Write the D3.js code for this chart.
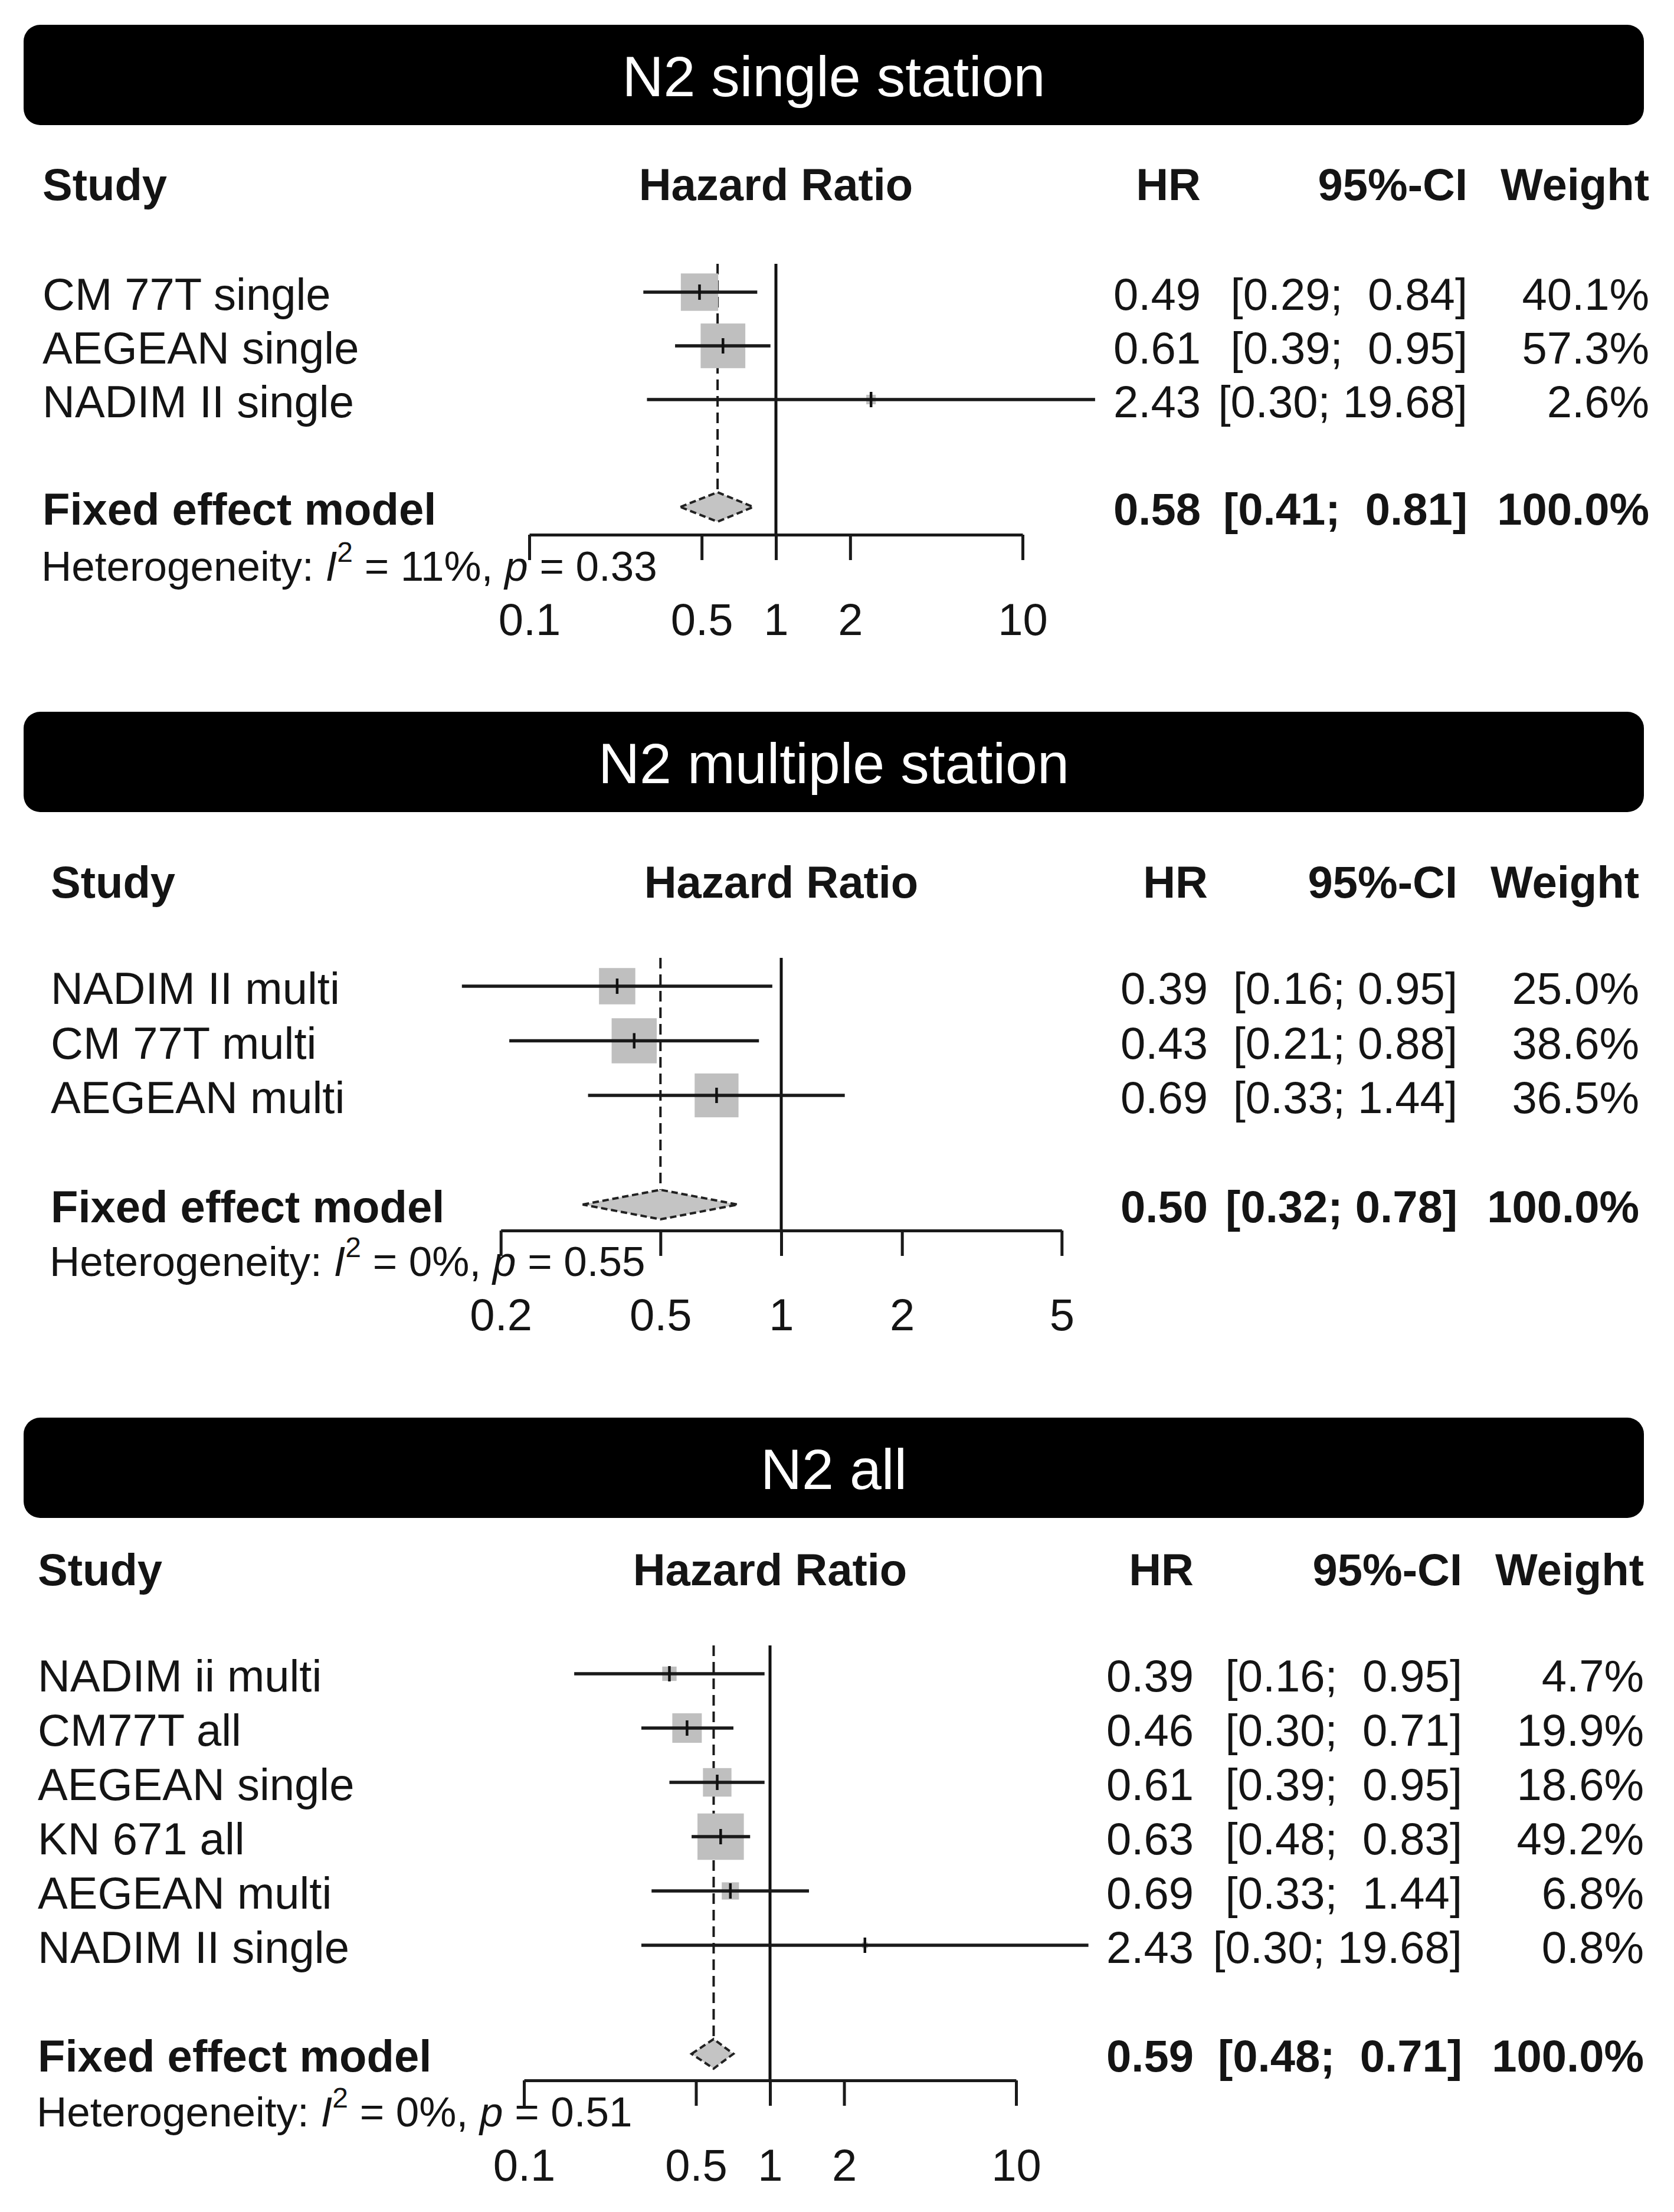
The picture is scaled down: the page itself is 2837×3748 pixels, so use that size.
<!DOCTYPE html>
<html>
<head>
<meta charset="utf-8">
<script src="https://cdn.jsdelivr.net/npm/d3@7"></script>
<style>
body { margin: 0; background: #fff; }
svg text { font-family: "Liberation Sans", Arial, sans-serif; fill: #141414; }
</style>
</head>
<body>
<div id="chart"></div>
<script>
"use strict";

var panelTitles = ["N2 single station", "N2 multiple station", "N2 all"];

// N2 single station
var singleStudies = ["CM 77T single", "AEGEAN single", "NADIM II single"];
var singleHR      = [0.49, 0.61, 2.43];
var singleLower   = [0.29, 0.39, 0.30];
var singleUpper   = [0.84, 0.95, 19.68];
var singleWeight  = [40.1, 57.3, 2.6];
var singlePooled  = [0.58, 0.41, 0.81, 100.0];   // HR, lower, upper, weight
var singleHet     = ["11%", "0.33"];             // I^2, p
var singleTicks   = [0.1, 0.5, 1, 2, 10];

// N2 multiple station
var multiStudies = ["NADIM II multi", "CM 77T multi", "AEGEAN multi"];
var multiHR      = [0.39, 0.43, 0.69];
var multiLower   = [0.16, 0.21, 0.33];
var multiUpper   = [0.95, 0.88, 1.44];
var multiWeight  = [25.0, 38.6, 36.5];
var multiPooled  = [0.50, 0.32, 0.78, 100.0];
var multiHet     = ["0%", "0.55"];
var multiTicks   = [0.2, 0.5, 1, 2, 5];

// N2 all
var allStudies = ["NADIM ii multi", "CM77T all", "AEGEAN single", "KN 671 all", "AEGEAN multi", "NADIM II single"];
var allHR      = [0.39, 0.46, 0.61, 0.63, 0.69, 2.43];
var allLower   = [0.16, 0.30, 0.39, 0.48, 0.33, 0.30];
var allUpper   = [0.95, 0.71, 0.95, 0.83, 1.44, 19.68];
var allWeight  = [4.7, 19.9, 18.6, 49.2, 6.8, 0.8];
var allPooled  = [0.59, 0.48, 0.71, 100.0];
var allHet     = ["0%", "0.51"];
var allTicks   = [0.1, 0.5, 1, 2, 10];


var W = 2837, H = 3748;
var FS = 76;

var svg = d3.select("#chart").append("svg")
	.attr("width", W).attr("height", H);

svg.append("rect").attr("width", W).attr("height", H).attr("fill", "#fff");

// layout of every panel (pixel positions only)
var layouts = [
	{top: 42,   headY: 339,  firstY: 495,  rowH: 91,   axisGap: 47, hetGap: 125, tickGap: 217,
	 x1: 1315, decade: 418, labelX: 72, hrX: 2035, ciX: 2487, wX: 2795, sqK: 10},
	{top: 1206, headY: 1521, firstY: 1671, rowH: 92.5, axisGap: 44, hetGap: 121, tickGap: 213,
	 x1: 1324, decade: 680, labelX: 86, hrX: 2047, ciX: 2470, wX: 2778, sqK: 12.3},
	{top: 2402, headY: 2686, firstY: 2836, rowH: 92,   axisGap: 45, hetGap: 123, tickGap: 215,
	 x1: 1305, decade: 417, labelX: 64, hrX: 2023, ciX: 2478, wX: 2786, sqK: 11.2}
];

var panelData = [
	{studies: singleStudies, hr: singleHR, lo: singleLower, hi: singleUpper, w: singleWeight,
	 pooled: singlePooled, het: singleHet, ticks: singleTicks},
	{studies: multiStudies, hr: multiHR, lo: multiLower, hi: multiUpper, w: multiWeight,
	 pooled: multiPooled, het: multiHet, ticks: multiTicks},
	{studies: allStudies, hr: allHR, lo: allLower, hi: allUpper, w: allWeight,
	 pooled: allPooled, het: allHet, ticks: allTicks}
];


function padLeft(s, n) {
	while (s.length < n) s = " " + s;
	return s;
}

function drawPanel(title, d, L) {

	var g = svg.append("g");
	var n = d.studies.length;

	// rows as objects
	var rows = d.studies.map(function(s, i) {
		return {name: s, hr: d.hr[i], lo: d.lo[i], hi: d.hi[i], w: d.w[i],
			y: L.firstY + i * L.rowH};
	});
	var fixedY = L.firstY + (n + 1) * L.rowH;
	var axisY = fixedY + L.axisGap;

	// width of the upper CI strings, R pads them with spaces
	var hiWidth = d3.max(d.hi.concat([d.pooled[2]]), function(v) { return v.toFixed(2).length; });
	function ciText(lo, hi) {
		return "[" + lo.toFixed(2) + "; " + padLeft(hi.toFixed(2), hiWidth) + "]";
	}

	var t0 = d.ticks[0], t1 = d.ticks[d.ticks.length - 1];
	var x = d3.scaleLog()
		.domain([t0, t1])
		.range([L.x1 + L.decade * Math.log10(t0), L.x1 + L.decade * Math.log10(t1)]);

	// title bar
	g.append("rect")
		.attr("x", 40).attr("y", L.top)
		.attr("width", 2746).attr("height", 170)
		.attr("rx", 28).attr("ry", 28)
		.attr("fill", "#000");
	g.append("text")
		.attr("x", 1413).attr("y", L.top + 85 + 36)
		.attr("text-anchor", "middle")
		.style("fill", "#fff")
		.style("font-size", "97px")
		.text(title);

	// column headers
	var head = g.append("g").style("font-weight", "bold").style("font-size", FS + "px");
	head.append("text").attr("x", L.labelX).attr("y", L.headY).text("Study");
	head.append("text").attr("x", x(1)).attr("y", L.headY).attr("text-anchor", "middle").text("Hazard Ratio");
	head.append("text").attr("x", L.hrX).attr("y", L.headY).attr("text-anchor", "end").text("HR");
	head.append("text").attr("x", L.ciX).attr("y", L.headY).attr("text-anchor", "end").text("95%-CI");
	head.append("text").attr("x", L.wX).attr("y", L.headY).attr("text-anchor", "end").text("Weight");

	var diamondH = 25;
	var top = L.firstY - 48;

	// pooled estimate (dashed) and line of no effect
	g.append("line")
		.attr("x1", x(d.pooled[0])).attr("x2", x(d.pooled[0]))
		.attr("y1", top).attr("y2", fixedY - diamondH)
		.attr("stroke", "#1a1a1a").attr("stroke-width", 4)
		.attr("stroke-dasharray", "18,10");
	g.append("line")
		.attr("x1", x(1)).attr("x2", x(1))
		.attr("y1", top).attr("y2", axisY)
		.attr("stroke", "#111").attr("stroke-width", 5);

	// squares
	g.selectAll(".sq").data(rows).enter().append("rect")
		.attr("class", "sq")
		.attr("x", function(r) { return x(r.hr) - L.sqK * Math.sqrt(r.w) / 2; })
		.attr("y", function(r) { return r.y - L.sqK * Math.sqrt(r.w) / 2; })
		.attr("width", function(r) { return L.sqK * Math.sqrt(r.w); })
		.attr("height", function(r) { return L.sqK * Math.sqrt(r.w); })
		.attr("fill", "#bfbfbf");

	// confidence intervals
	g.selectAll(".ci").data(rows).enter().append("line")
		.attr("class", "ci")
		.attr("x1", function(r) { return x(r.lo); })
		.attr("x2", function(r) { return x(r.hi); })
		.attr("y1", function(r) { return r.y; })
		.attr("y2", function(r) { return r.y; })
		.attr("stroke", "#1a1a1a").attr("stroke-width", 5.5);

	// little tick on the estimate
	g.selectAll(".est").data(rows).enter().append("line")
		.attr("class", "est")
		.attr("x1", function(r) { return x(r.hr); })
		.attr("x2", function(r) { return x(r.hr); })
		.attr("y1", function(r) { return r.y - 13; })
		.attr("y2", function(r) { return r.y + 13; })
		.attr("stroke", "#111").attr("stroke-width", 4.5);

	// diamond
	var dia = [[x(d.pooled[1]), fixedY], [x(d.pooled[0]), fixedY - diamondH],
		[x(d.pooled[2]), fixedY], [x(d.pooled[0]), fixedY + diamondH]];
	g.append("path")
		.attr("d", "M" + dia.join("L") + "Z")
		.attr("fill", "#c4c4c4")
		.attr("stroke", "#222").attr("stroke-width", 4)
		.attr("stroke-dasharray", "11,6");

	// axis
	var ax = g.append("g")
		.attr("transform", "translate(0," + axisY + ")")
		.call(d3.axisBottom(x).tickValues(d.ticks).tickFormat(function(v) { return String(v); })
			.tickSize(43).tickSizeOuter(0));
	ax.select(".domain").attr("stroke", "#1a1a1a").attr("stroke-width", 5);
	ax.selectAll(".tick line").attr("stroke", "#1a1a1a").attr("stroke-width", 5);
	ax.selectAll(".tick text")
		.attr("y", L.tickGap - L.axisGap).attr("dy", 0)
		.style("font-size", FS + "px")
		.style("fill", "#141414");
	ax.attr("font-family", null).attr("font-size", null);

	// study text columns
	var txt = g.append("g").style("font-size", FS + "px");
	var yb = 30;
	txt.selectAll(".lab").data(rows).enter().append("text")
		.attr("x", L.labelX).attr("y", function(r) { return r.y + yb; })
		.text(function(r) { return r.name; });
	txt.selectAll(".hr").data(rows).enter().append("text")
		.attr("x", L.hrX).attr("y", function(r) { return r.y + yb; })
		.attr("text-anchor", "end")
		.text(function(r) { return r.hr.toFixed(2); });
	txt.selectAll(".cit").data(rows).enter().append("text")
		.attr("x", L.ciX).attr("y", function(r) { return r.y + yb; })
		.attr("text-anchor", "end")
		.style("white-space", "pre")
		.text(function(r) { return ciText(r.lo, r.hi); });
	txt.selectAll(".wt").data(rows).enter().append("text")
		.attr("x", L.wX).attr("y", function(r) { return r.y + yb; })
		.attr("text-anchor", "end")
		.text(function(r) { return r.w.toFixed(1) + "%"; });

	// fixed effect row
	var fx = g.append("g").style("font-size", FS + "px").style("font-weight", "bold");
	fx.append("text").attr("x", L.labelX).attr("y", fixedY + yb).text("Fixed effect model");
	fx.append("text").attr("x", L.hrX).attr("y", fixedY + yb).attr("text-anchor", "end")
		.text(d.pooled[0].toFixed(2));
	fx.append("text").attr("x", L.ciX).attr("y", fixedY + yb).attr("text-anchor", "end")
		.style("white-space", "pre")
		.text(ciText(d.pooled[1], d.pooled[2]));
	fx.append("text").attr("x", L.wX).attr("y", fixedY + yb).attr("text-anchor", "end")
		.text(d.pooled[3].toFixed(1) + "%");

	// heterogeneity
	var het = g.append("text")
		.attr("x", L.labelX - 2).attr("y", fixedY + L.hetGap)
		.style("font-size", "71px")
		.style("white-space", "pre");
	het.append("tspan").text("Heterogeneity: ");
	het.append("tspan").style("font-style", "italic").text("I");
	het.append("tspan").attr("dy", -32).style("font-size", "48px").text("2");
	het.append("tspan").attr("dy", 32).text(" = " + d.het[0] + ", ");
	het.append("tspan").style("font-style", "italic").text("p");
	het.append("tspan").text(" = " + d.het[1]);
}

for (var i = 0; i < panelTitles.length; i++) {
	drawPanel(panelTitles[i], panelData[i], layouts[i]);
}

</script>
</body>
</html>
